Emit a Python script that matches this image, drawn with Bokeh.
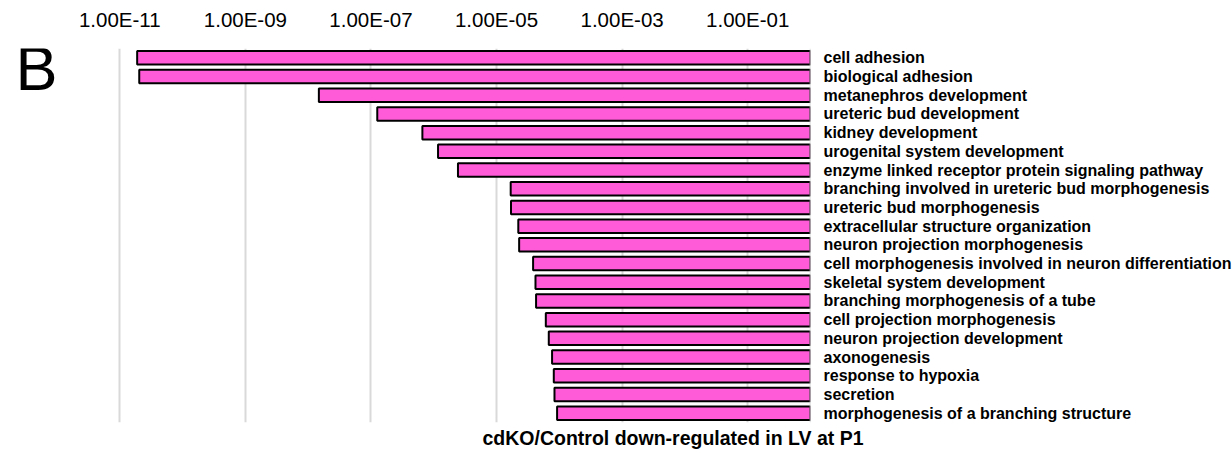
from bokeh.plotting import figure
from bokeh.models import (FactorRange, Range1d, FixedTicker, CustomJSTickFormatter,
                          Span, Label, Title, ColumnDataSource)
from bokeh.embed import file_html
from bokeh.resources import INLINE

terms = [
    "cell adhesion",
    "biological adhesion",
    "metanephros development",
    "ureteric bud development",
    "kidney development",
    "urogenital system development",
    "enzyme linked receptor protein signaling pathway",
    "branching involved in ureteric bud morphogenesis",
    "ureteric bud morphogenesis",
    "extracellular structure organization",
    "neuron projection morphogenesis",
    "cell morphogenesis involved in neuron differentiation",
    "skeletal system development",
    "branching morphogenesis of a tube",
    "cell projection morphogenesis",
    "neuron projection development",
    "axonogenesis",
    "response to hypoxia",
    "secretion",
    "morphogenesis of a branching structure",
]
pvalues = [1.89e-11, 2.04e-11, 1.48e-8, 1.26e-7, 6.59e-7, 1.17e-6, 2.43e-6,
           1.68e-5, 1.70e-5, 2.22e-5, 2.29e-5, 3.82e-5, 4.17e-5, 4.26e-5,
           6.09e-5, 6.79e-5, 7.66e-5, 8.16e-5, 8.37e-5, 9.21e-5]
tick_values = [1e-11, 1e-9, 1e-7, 1e-5, 1e-3, 1e-1]
title_text = "cdKO/Control down-regulated in LV at P1"
panel_letter = "B"

FONT = "Liberation Sans"

src = ColumnDataSource(dict(term=terms, pval=pvalues, base=[1.0] * len(terms)))

# frame spans from the canvas left edge; the 1E-11 gridline sits ~119px in
x_start = 10 ** (-12.9)
p = figure(frame_width=810, frame_height=374,
           x_axis_type="log", x_range=Range1d(x_start, 1.0),
           y_range=FactorRange(factors=list(reversed(terms)), range_padding=0),
           x_axis_location="above", y_axis_location="right",
           output_backend="svg", toolbar_location=None,
           min_border_left=0, min_border_right=422,
           min_border_top=48, min_border_bottom=31)
p.outline_line_color = None
p.background_fill_color = "white"
p.border_fill_color = "white"

p.hbar(y="term", left="pval", right="base", height=0.72, source=src,
       fill_color="#ff5bd8", line_color="black", line_width=2)

# grid
p.xgrid.ticker = FixedTicker(ticks=tick_values, minor_ticks=[])
p.xgrid.grid_line_color = "#d9d9d9"
p.xgrid.grid_line_width = 2
p.ygrid.grid_line_color = None

# right vertical axis line at 1
p.add_layout(Span(location=1.0, dimension="height", line_color="#cfcfcf", line_width=1.5))

# top axis
xa = p.xaxis[0]
xa.ticker = FixedTicker(ticks=tick_values, minor_ticks=[])
xa.formatter = CustomJSTickFormatter(code="""
const parts = tick.toExponential(2).split('e');
let e = parseInt(parts[1]);
const sign = e < 0 ? '-' : '+';
e = Math.abs(e);
return parts[0] + 'E' + sign + (e < 10 ? '0' : '') + e;
""")
xa.axis_line_color = None
xa.major_tick_line_color = None
xa.minor_tick_line_color = None
xa.major_tick_out = 0
xa.major_tick_in = 0
xa.major_label_standoff = 18
xa.major_label_text_font = FONT
xa.major_label_text_font_size = "20.5px"
xa.major_label_text_color = "black"

# right category axis
ya = p.yaxis[0]
ya.axis_line_color = None
ya.major_tick_line_color = None
ya.minor_tick_line_color = None
ya.major_tick_out = 0
ya.major_tick_in = 0
ya.major_label_standoff = 13
ya.major_label_text_font = FONT
ya.major_label_text_font_size = "16px"
ya.major_label_text_font_style = "bold"
ya.major_label_text_color = "black"

# bottom title
p.add_layout(Title(text=title_text, align="left", offset=482, standoff=4,
                   text_font=FONT, text_font_size="19.5px", text_font_style="bold",
                   text_color="black"), "below")
# panel letter
p.add_layout(Label(x=15, y=355, x_units="screen", y_units="screen",
                   text=panel_letter, text_align="left", text_baseline="alphabetic",
                   text_font=FONT, text_font_size="63px", text_color="black"))

open("out.html", "w").write(file_html(p, INLINE))
